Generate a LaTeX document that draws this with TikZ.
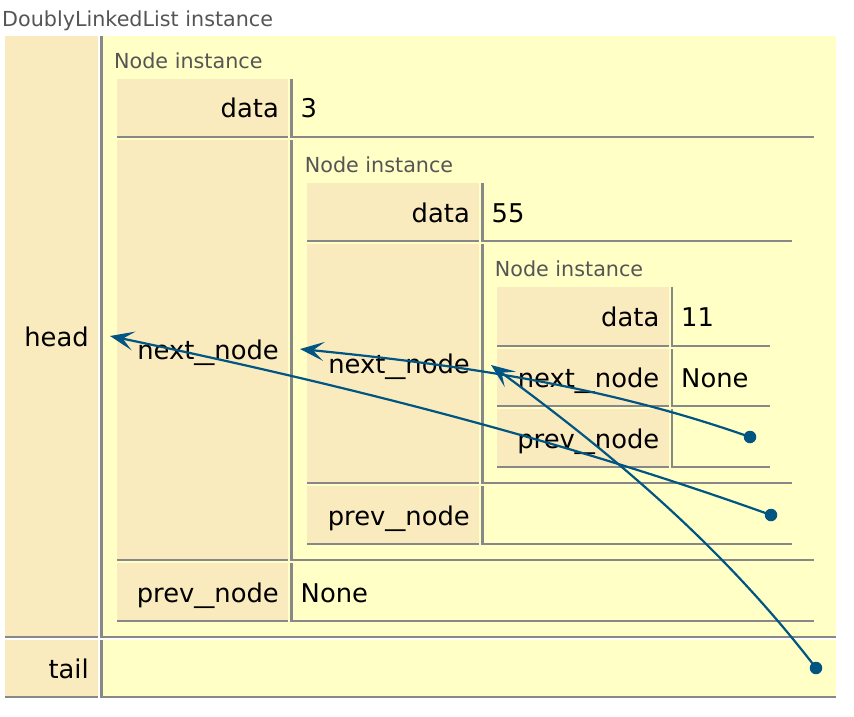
\documentclass[tikz,border=0pt]{standalone}
\usepackage{fontspec}
\setmainfont{DejaVu Sans}
\usetikzlibrary{arrows.meta}
\definecolor{keybg}{HTML}{FAEBBF}
\definecolor{valbg}{HTML}{FFFFC6}
\definecolor{linegray}{HTML}{888888}
\definecolor{titlegray}{HTML}{555555}
\definecolor{arrowblue}{HTML}{005583}
\newcommand{\wideus}{\scalebox{1.55}[1]{\_}}
% #1 x0, #2 key right, #3 table right, #4 y0, #5 y1, #6 name, #7 key text, #8 value text
\newcommand{\pyrow}[8]{%
  \fill[keybg] (#1,#4) rectangle (#2,#5);
  \fill[linegray] (#1,#5) rectangle (#2,#5+2);
  \fill[linegray] (#2+2,#4) rectangle (#2+4.5,#5+2);
  \fill[linegray] (#2+4.5,#5) rectangle (#3,#5+2);
  \node[keytext] (#6k) at (#2-9,{(#4+#5)/2+10.5}) {#7};
  \node[valtext] (#6v) at (#2+12.5,{(#4+#5)/2+10.5}) {#8};
}
\begin{document}
\begin{tikzpicture}[x=1pt,y=-1pt,
  keytext/.style={font=\fontsize{25.8}{30}\selectfont, inner sep=0pt, anchor=base east},
  valtext/.style={font=\fontsize{25.8}{30}\selectfont, inner sep=0pt, anchor=base west},
  titletext/.style={font=\fontsize{20.7}{24}\selectfont, text=titlegray, inner sep=0pt, anchor=base west},
  ptr/.style={draw=arrowblue, line width=2.2pt, -{Stealth[length=24pt,width=19pt,inset=11pt,fill=arrowblue]}},
  dotmark/.style={circle, fill=arrowblue, minimum size=12.5pt, inner sep=0pt}]
\useasboundingbox (0,0) rectangle (854,716);
\fill[white] (0,0) rectangle (854,716);

% title
\node[titletext] (title) at (2,26) {DoublyLinkedList instance};

% outer value backgrounds
\fill[valbg] (102,36) rectangle (836,636);
\fill[valbg] (102,640) rectangle (836,696);

% outer rows
\pyrow{5}{98}{836}{36}{636}{head}{head}{}
\pyrow{5}{98}{836}{640}{696}{tail}{tail}{}

% Node 1
\node[titletext] (n1title) at (114,68.3) {Node instance};
\pyrow{117}{288}{814}{79}{135.5}{nAdata}{data}{3}
\pyrow{117}{288}{814}{139.5}{559}{nAnext}{next\wideus node}{}
\pyrow{117}{288}{814}{563}{620}{nAprev}{prev\wideus node}{None}

% Node 2
\node[titletext] (n2title) at (304.7,172.7) {Node instance};
\pyrow{307}{479}{792}{183}{240}{nBdata}{data}{55}
\pyrow{307}{479}{792}{244}{482}{nBnext}{next\wideus node}{}
\pyrow{307}{479}{792}{486}{543}{nBprev}{prev\wideus node}{}

% Node 3
\node[titletext] (n3title) at (494.7,276.7) {Node instance};
\pyrow{497}{668.5}{770}{287}{345}{nCdata}{data}{11}
\pyrow{497}{668.5}{770}{349}{405}{nCnext}{next\wideus node}{None}
\pyrow{497}{668.5}{770}{409}{466}{nCprev}{prev\wideus node}{}

% pointer targets (left of each Node instance)
\coordinate (tA) at (110,336);
\coordinate (tB) at (300,349);
\coordinate (tC) at (491,365);

% pointer sources
\node[dotmark] (dA) at (771,515) {};
\node[dotmark] (dB) at (750,437) {};
\node[dotmark] (dC) at (816,668) {};

\draw[ptr] (dA.center) .. controls (551,436) and (330,382) .. (tA);
\draw[ptr] (dB.center) .. controls (600,384) and (450,364) .. (tB);
\draw[ptr] (dC.center) .. controls (716,538) and (601,446) .. (tC);
\end{tikzpicture}
\end{document}
